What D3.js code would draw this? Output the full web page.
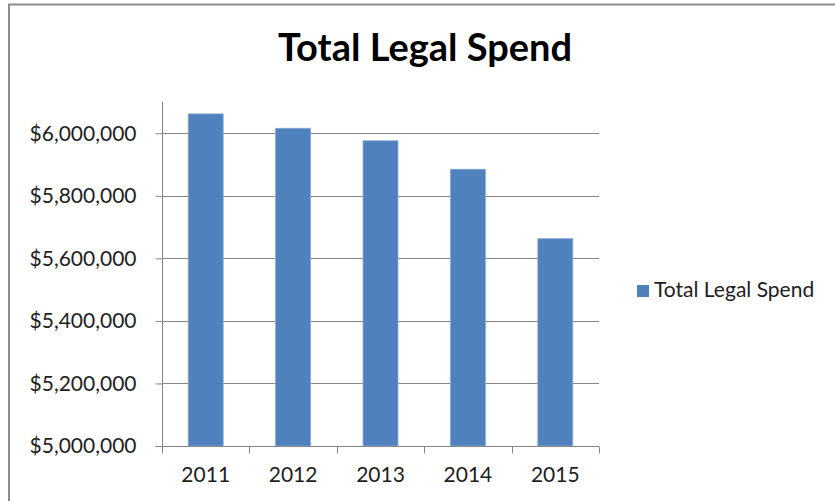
<!DOCTYPE html>
<html>
<head>
<meta charset="utf-8">
<script src="https://cdn.jsdelivr.net/npm/d3@7"></script>
<style>
  html, body { margin: 0; padding: 0; background: #fff; }
  svg { display: block; font-family: Lato, "Open Sans", sans-serif; }
</style>
</head>
<body>
<div id="Chart"></div>
<script>
const years = ["2011", "2012", "2013", "2014", "2015"];
const spend = [6062000, 6016000, 5976000, 5885000, 5663000];
const yTicks = [5000000, 5200000, 5400000, 5600000, 5800000, 6000000];
const seriesName = "Total Legal Spend";
const barColor = "#4f81bd";
const gridColor = "#878787";

const W = 835, H = 501;
const plot = {left: 162, right: 599, top: 102, bottom: 446};

const svg = d3.select("#Chart").append("svg")
  .attr("width", W)
  .attr("height", H);

// chart area frame (only top and left edges are in view)
svg.append("path")
  .attr("d", `M9,${H} V4.5 H${W}`)
  .attr("fill", "none")
  .attr("stroke", "#8c8c8c")
  .attr("stroke-width", 2);

svg.append("text")
  .attr("x", 425)
  .attr("y", 61)
  .attr("text-anchor", "middle")
  .attr("font-weight", "bold")
  .attr("font-size", 38)
  .attr("fill", "#000")
  .text(seriesName);

const x = d3.scaleBand()
  .domain(years)
  .range([plot.left, plot.right])
  .paddingInner(0.6)
  .paddingOuter(0.3);

const xCat = d3.scaleBand()
  .domain(years)
  .range([plot.left, plot.right]);

const y = d3.scaleLinear()
  .domain([5000000, 6100000])
  .range([plot.bottom, plot.top]);

// gridlines
svg.append("g").selectAll("line").data(yTicks.slice(1)).join("line")
  .attr("x1", plot.left)
  .attr("x2", plot.right)
  .attr("y1", d => Math.round(y(d)) + 0.5)
  .attr("y2", d => Math.round(y(d)) + 0.5)
  .attr("stroke", gridColor);

// bars
svg.append("g").selectAll("rect").data(spend).join("rect")
  .attr("x", (d, i) => x(years[i]))
  .attr("y", d => y(d))
  .attr("width", x.bandwidth())
  .attr("height", d => plot.bottom - y(d))
  .attr("fill", barColor)
  .attr("stroke", "#8aa9d4")
  .attr("stroke-width", 0.8);

// y axis
const yAxis = svg.append("g")
  .attr("transform", `translate(${plot.left + 0.5},0)`)
  .call(d3.axisLeft(y)
    .tickValues(yTicks)
    .tickSize(7)
    .tickPadding(19)
    .tickFormat(d => "$" + d3.format(",")(d)));
yAxis.select(".domain").attr("d", `M-7,${plot.bottom + 0.5}H0V${plot.top}`);

// x axis
const xAxis = svg.append("g")
  .attr("transform", `translate(0,${plot.bottom + 0.5})`)
  .call(d3.axisBottom(xCat).tickSize(0).tickPadding(21));
xAxis.select(".domain").attr("d", `M${plot.left},0H${plot.right}`);
xAxis.append("g").selectAll("line")
  .data(d3.range(years.length + 1))
  .join("line")
  .attr("x1", i => Math.round(plot.left + i * xCat.step()) + 0.5)
  .attr("x2", i => Math.round(plot.left + i * xCat.step()) + 0.5)
  .attr("y1", 0)
  .attr("y2", 7)
  .attr("stroke", gridColor);

svg.selectAll(".domain, .tick line").attr("stroke", gridColor);
svg.selectAll(".tick text")
  .attr("font-family", "Lato, 'Open Sans', sans-serif")
  .attr("font-size", 21)
  .attr("fill", "#1e1e1e");

// legend
const legend = svg.append("g").attr("transform", "translate(637,285)");
legend.append("rect")
  .attr("width", 12)
  .attr("height", 12)
  .attr("fill", barColor);
legend.append("text")
  .attr("x", 17)
  .attr("y", 12)
  .attr("font-size", 21)
  .attr("fill", "#1e1e1e")
  .text(seriesName);
</script>
</body>
</html>
